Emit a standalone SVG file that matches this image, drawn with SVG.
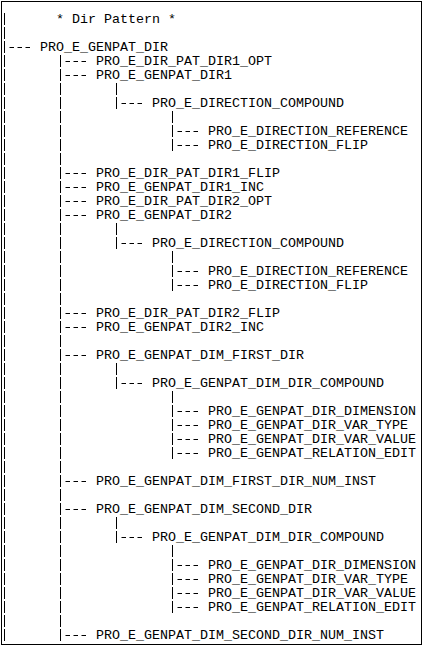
<svg xmlns="http://www.w3.org/2000/svg" width="424" height="648" viewBox="0 0 424 648">
<style>
text{font-family:"Courier New","Liberation Mono","DejaVu Sans Mono",monospace;font-size:13.333px;fill:#000}
.v{stroke:#000;stroke-width:1;stroke-dasharray:12 2;fill:none}
.h{stroke:#000;stroke-width:1;stroke-dasharray:4.5 3.5;fill:none}
</style>
<rect x="0" y="0" width="424" height="648" fill="#fff"/>
<rect x="1.5" y="1.5" width="420" height="643" fill="none" stroke="#000" stroke-width="1"/>
<g id="connectors">
<line class="v" x1="4.5" y1="13" x2="4.5" y2="641"/>
<line class="v" x1="60.5" y1="55" x2="60.5" y2="641"/>
<line class="v" x1="116.5" y1="83" x2="116.5" y2="109"/>
<line class="v" x1="116.5" y1="223" x2="116.5" y2="249"/>
<line class="v" x1="116.5" y1="363" x2="116.5" y2="389"/>
<line class="v" x1="116.5" y1="517" x2="116.5" y2="543"/>
<line class="v" x1="172.5" y1="111" x2="172.5" y2="151"/>
<line class="v" x1="172.5" y1="251" x2="172.5" y2="291"/>
<line class="v" x1="172.5" y1="391" x2="172.5" y2="459"/>
<line class="v" x1="172.5" y1="545" x2="172.5" y2="613"/>
<line class="h" x1="9.5" y1="47.5" x2="30" y2="47.5"/>
<line class="h" x1="65.5" y1="61.5" x2="86" y2="61.5"/>
<line class="h" x1="65.5" y1="75.5" x2="86" y2="75.5"/>
<line class="h" x1="121.5" y1="103.5" x2="142" y2="103.5"/>
<line class="h" x1="177.5" y1="131.5" x2="198" y2="131.5"/>
<line class="h" x1="177.5" y1="145.5" x2="198" y2="145.5"/>
<line class="h" x1="65.5" y1="173.5" x2="86" y2="173.5"/>
<line class="h" x1="65.5" y1="187.5" x2="86" y2="187.5"/>
<line class="h" x1="65.5" y1="201.5" x2="86" y2="201.5"/>
<line class="h" x1="65.5" y1="215.5" x2="86" y2="215.5"/>
<line class="h" x1="121.5" y1="243.5" x2="142" y2="243.5"/>
<line class="h" x1="177.5" y1="271.5" x2="198" y2="271.5"/>
<line class="h" x1="177.5" y1="285.5" x2="198" y2="285.5"/>
<line class="h" x1="65.5" y1="313.5" x2="86" y2="313.5"/>
<line class="h" x1="65.5" y1="327.5" x2="86" y2="327.5"/>
<line class="h" x1="65.5" y1="355.5" x2="86" y2="355.5"/>
<line class="h" x1="121.5" y1="383.5" x2="142" y2="383.5"/>
<line class="h" x1="177.5" y1="411.5" x2="198" y2="411.5"/>
<line class="h" x1="177.5" y1="425.5" x2="198" y2="425.5"/>
<line class="h" x1="177.5" y1="439.5" x2="198" y2="439.5"/>
<line class="h" x1="177.5" y1="453.5" x2="198" y2="453.5"/>
<line class="h" x1="65.5" y1="481.5" x2="86" y2="481.5"/>
<line class="h" x1="65.5" y1="509.5" x2="86" y2="509.5"/>
<line class="h" x1="121.5" y1="537.5" x2="142" y2="537.5"/>
<line class="h" x1="177.5" y1="565.5" x2="198" y2="565.5"/>
<line class="h" x1="177.5" y1="579.5" x2="198" y2="579.5"/>
<line class="h" x1="177.5" y1="593.5" x2="198" y2="593.5"/>
<line class="h" x1="177.5" y1="607.5" x2="198" y2="607.5"/>
<line class="h" x1="65.5" y1="635.5" x2="86" y2="635.5"/>
</g>
<g id="title"><text x="56" y="23">* Dir Pattern *</text></g>
<g id="genpat_dir"><text x="40" y="51">PRO_E_GENPAT_DIR</text></g>
<g id="dir_pat_dir1_opt"><text x="96" y="65">PRO_E_DIR_PAT_DIR1_OPT</text></g>
<g id="genpat_dir1"><text x="96" y="79">PRO_E_GENPAT_DIR1</text></g>
<g id="direction_compound_1"><text x="152" y="107">PRO_E_DIRECTION_COMPOUND</text></g>
<g id="direction_reference_1"><text x="208" y="135">PRO_E_DIRECTION_REFERENCE</text></g>
<g id="direction_flip_1"><text x="208" y="149">PRO_E_DIRECTION_FLIP</text></g>
<g id="dir_pat_dir1_flip"><text x="96" y="177">PRO_E_DIR_PAT_DIR1_FLIP</text></g>
<g id="genpat_dir1_inc"><text x="96" y="191">PRO_E_GENPAT_DIR1_INC</text></g>
<g id="dir_pat_dir2_opt"><text x="96" y="205">PRO_E_DIR_PAT_DIR2_OPT</text></g>
<g id="genpat_dir2"><text x="96" y="219">PRO_E_GENPAT_DIR2</text></g>
<g id="direction_compound_2"><text x="152" y="247">PRO_E_DIRECTION_COMPOUND</text></g>
<g id="direction_reference_2"><text x="208" y="275">PRO_E_DIRECTION_REFERENCE</text></g>
<g id="direction_flip_2"><text x="208" y="289">PRO_E_DIRECTION_FLIP</text></g>
<g id="dir_pat_dir2_flip"><text x="96" y="317">PRO_E_DIR_PAT_DIR2_FLIP</text></g>
<g id="genpat_dir2_inc"><text x="96" y="331">PRO_E_GENPAT_DIR2_INC</text></g>
<g id="dim_first_dir"><text x="96" y="359">PRO_E_GENPAT_DIM_FIRST_DIR</text></g>
<g id="dim_dir_compound_1"><text x="152" y="387">PRO_E_GENPAT_DIM_DIR_COMPOUND</text></g>
<g id="dir_dimension_1"><text x="208" y="415">PRO_E_GENPAT_DIR_DIMENSION</text></g>
<g id="dir_var_type_1"><text x="208" y="429">PRO_E_GENPAT_DIR_VAR_TYPE</text></g>
<g id="dir_var_value_1"><text x="208" y="443">PRO_E_GENPAT_DIR_VAR_VALUE</text></g>
<g id="relation_edit_1"><text x="208" y="457">PRO_E_GENPAT_RELATION_EDIT</text></g>
<g id="dim_first_dir_num_inst"><text x="96" y="485">PRO_E_GENPAT_DIM_FIRST_DIR_NUM_INST</text></g>
<g id="dim_second_dir"><text x="96" y="513">PRO_E_GENPAT_DIM_SECOND_DIR</text></g>
<g id="dim_dir_compound_2"><text x="152" y="541">PRO_E_GENPAT_DIM_DIR_COMPOUND</text></g>
<g id="dir_dimension_2"><text x="208" y="569">PRO_E_GENPAT_DIR_DIMENSION</text></g>
<g id="dir_var_type_2"><text x="208" y="583">PRO_E_GENPAT_DIR_VAR_TYPE</text></g>
<g id="dir_var_value_2"><text x="208" y="597">PRO_E_GENPAT_DIR_VAR_VALUE</text></g>
<g id="relation_edit_2"><text x="208" y="611">PRO_E_GENPAT_RELATION_EDIT</text></g>
<g id="dim_second_dir_num_inst"><text x="96" y="639">PRO_E_GENPAT_DIM_SECOND_DIR_NUM_INST</text></g>
</svg>
